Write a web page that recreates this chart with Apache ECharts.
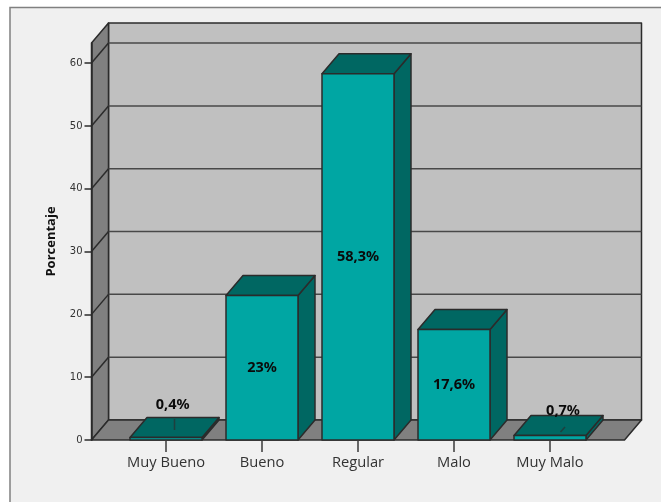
<!DOCTYPE html>
<html>
<head>
<meta charset="utf-8">
<style>html,body{margin:0;padding:0;background:#fff}#c{width:661px;height:502px}</style>
<script src="https://cdn.jsdelivr.net/npm/echarts@6/dist/echarts.min.js"></script>
</head>
<body>
<div id="c"></div>
<script>
const categories = ['Muy Bueno', 'Bueno', 'Regular', 'Malo', 'Muy Malo'];
const percentages = [0.4, 23, 58.3, 17.6, 0.7];
const barLabels = ['0,4%', '23%', '58,3%', '17,6%', '0,7%'];
const yTicks = [0, 10, 20, 30, 40, 50, 60];
const yMax = 63.2;

const DX = 17, DY = -20, BAR_W = 72, LEFT_PAD = 74.5;
const LINE = '#2b2b2b', FRONT = '#00a6a3', DARK = '#006762', WALL = '#c0c0c0', SIDE = '#808080';
// Labels of very thin bars are moved off the bar, with a leader line.
const calloutOffset = {0: {lx: 6.7, ly: -35, a: [8.5, -21], b: [8.5, -10]},
                       4: {lx: 13, ly: -29, a: [15, -13], b: [10.5, -8]}};

const chart = echarts.init(document.getElementById('c'), null, {renderer: 'canvas'});

function poly(points, fill, z2, stroke, lw) {
  return {type: 'polygon', z2: z2 || 0, shape: {points},
    style: {fill, stroke: stroke || LINE, lineWidth: lw || 1.5, lineJoin: 'round'}};
}
function line(x1, y1, x2, y2, z2, stroke) {
  return {type: 'line', z2: z2 || 1, shape: {x1, y1, x2, y2},
    style: {stroke: stroke || LINE, lineWidth: 1.5}};
}

function renderWalls(params, api) {
  const left = api.coord([0, 0])[0] - LEFT_PAD;
  const right = api.coord([categories.length - 1, 0])[0] + LEFT_PAD;
  const y0 = api.coord([0, 0])[1];
  const yT = api.coord([0, yMax])[1];
  const children = [
    poly([[left + DX, yT + DY], [right + DX, yT + DY], [right + DX, y0 + DY], [left + DX, y0 + DY]], WALL, 0),
    poly([[left, yT], [left + DX, yT + DY], [left + DX, y0 + DY], [left, y0]], SIDE, 1),
    poly([[left, y0], [left + DX, y0 + DY], [right + DX, y0 + DY], [right, y0]], SIDE, 1)
  ];
  yTicks.slice(1).forEach(function (t) {
    const y = api.coord([0, t])[1];
    children.push(line(left + DX, y + DY, right + DX, y + DY, 2, '#484848'));
    children.push(line(left, y, left + DX, y + DY, 2));
  });
  return {type: 'group', children};
}

function renderBar(params, api) {
  const i = api.value(0);
  const v = api.value(1);
  const base = api.coord([i, 0]);
  const top = api.coord([i, v]);
  const x0 = base[0] - BAR_W / 2, x1 = base[0] + BAR_W / 2;
  const y0 = base[1], y1 = top[1];
  const children = [
    poly([[x1, y0], [x1 + DX, y0 + DY], [x1 + DX, y1 + DY], [x1, y1]], DARK, 1),
    poly([[x0, y1], [x0 + DX, y1 + DY], [x1 + DX, y1 + DY], [x1, y1]], DARK, 1),
    poly([[x0, y0], [x0, y1], [x1, y1], [x1, y0]], FRONT, 2)
  ];
  const c = calloutOffset[i];
  let lx = base[0], ly = (y0 + y1) / 2;
  if (c) {
    lx = base[0] + c.lx; ly = y0 + c.ly;
    children.push(line(base[0] + c.a[0], y0 + c.a[1], base[0] + c.b[0], y0 + c.b[1], 3, '#1f3f3e'));
  }
  children.push({type: 'text', z2: 4, style: {x: lx, y: ly, text: barLabels[i], fill: '#0a0a0a',
    font: 'bold 14.5px "Noto Sans"', align: 'center', verticalAlign: 'middle'}});
  return {type: 'group', children};
}

chart.setOption({
  animation: false,
  backgroundColor: '#ffffff',
  graphic: [{type: 'rect', z: -1, silent: true, shape: {x: 10, y: 7.5, width: 660, height: 500},
    style: {fill: '#f0f0f0', stroke: '#808080', lineWidth: 1.5}}],
  grid: {left: 118, right: 63, top: 43, bottom: 62},
  xAxis: {
    type: 'category', data: categories, z: 6,
    axisLine: {show: false},
    axisTick: {show: true, alignWithLabel: true, length: 12, lineStyle: {color: '#3a3a3a', width: 1.5}},
    axisLabel: {color: '#333', fontFamily: 'Open Sans', fontSize: 14.7, margin: 15, interval: 0},
    splitLine: {show: false}
  },
  yAxis: {
    type: 'value', min: 0, max: yMax, offset: 26.5, z: 6,
    name: 'Porcentaje', nameLocation: 'middle', nameGap: 34, nameRotate: 90,
    nameTextStyle: {color: '#111', fontFamily: 'Open Sans', fontWeight: 'bold', fontSize: 13},
    axisLine: {show: true, lineStyle: {color: LINE, width: 1.5}},
    axisTick: {show: true, length: 7, customValues: yTicks, lineStyle: {color: LINE, width: 1.5}},
    axisLabel: {color: '#333', fontFamily: 'DejaVu Sans', fontSize: 10, margin: 9, customValues: yTicks},
    splitLine: {show: false}
  },
  series: [
    {type: 'custom', z: 1, silent: true, renderItem: renderWalls, data: [[0, 0]], encode: {x: 0, y: 1}},
    {type: 'custom', z: 3, silent: true, renderItem: renderBar,
      data: percentages.map((v, i) => [i, v]), encode: {x: 0, y: 1}}
  ]
});
</script>
</body>
</html>
